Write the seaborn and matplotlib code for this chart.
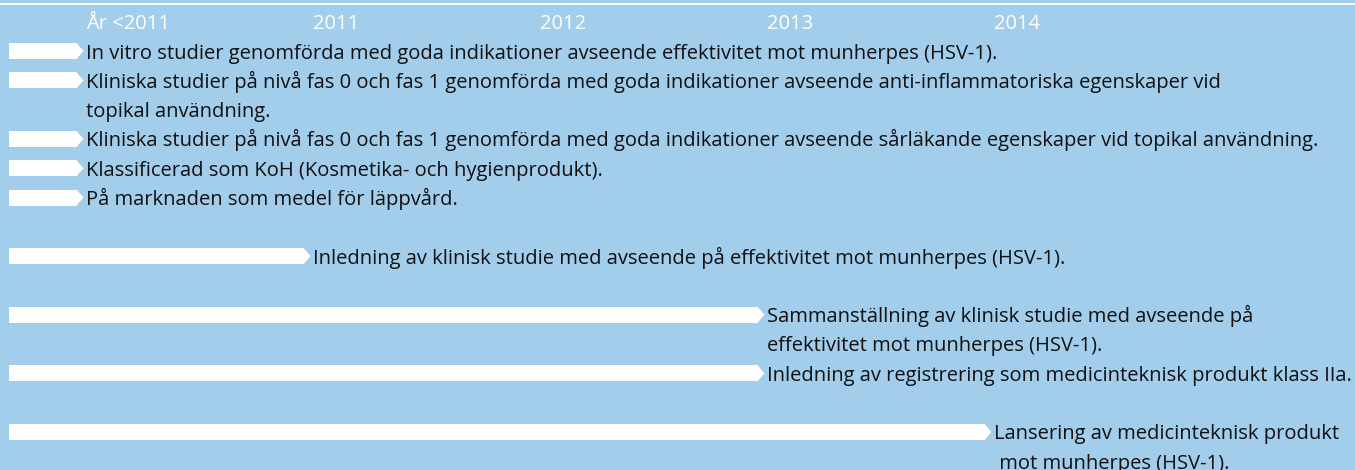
import pandas as pd
import matplotlib.pyplot as plt
import seaborn as sns

# tidslinje: etiketter för åren och milstolpar (text, årsindex)
years = ["År <2011", "2011", "2012", "2013", "2014"]
milestones = [
    "In vitro studier genomförda med goda indikationer avseende effektivitet mot munherpes (HSV-1).",
    "Kliniska studier på nivå fas 0 och fas 1 genomförda med goda indikationer avseende anti-inflammatoriska egenskaper vid\ntopikal användning.",
    "Kliniska studier på nivå fas 0 och fas 1 genomförda med goda indikationer avseende sårläkande egenskaper vid topikal användning.",
    "Klassificerad som KoH (Kosmetika- och hygienprodukt).",
    "På marknaden som medel för läppvård.",
    "Inledning av klinisk studie med avseende på effektivitet mot munherpes (HSV-1).",
    "Sammanställning av klinisk studie med avseende på\neffektivitet mot munherpes (HSV-1).",
    "Inledning av registrering som medicinteknisk produkt klass IIa.",
    "Lansering av medicinteknisk produkt\n mot munherpes (HSV-1).",
]
milestone_year = [0, 0, 0, 0, 0, 1, 3, 3, 4]

BG = "#a2cdeb"
TXT = "#111111"
FONT = "Open Sans"
FS = 14.5

# layout i pixlar
X0 = 9            # vänsterkant för pilarna
TIP0 = 83.5       # pilspets för första året
STEP = 227        # avstånd mellan år
HEAD = 7          # pilspetsens längd
LINE0 = 51        # första radens mitt
PITCH = 29.3      # radavstånd
BAR_H = 16

sns.set_theme(style="white")
plt.rcParams["font.family"] = [FONT, "DejaVu Sans"]

# radpositioner: tom rad när året byts
rows = []
line = 0
prev = milestone_year[0]
for txt, yi in zip(milestones, milestone_year):
    if yi != prev:
        line += 1
    prev = yi
    rows.append(line)
    line += len(txt.split("\n"))

df = pd.DataFrame({
    "text": milestones,
    "year": milestone_year,
    "ypos": [LINE0 + PITCH * r for r in rows],
})
df["tip"] = TIP0 + STEP * df["year"] - X0
df["end"] = df["tip"] - HEAD

fig = plt.figure(figsize=(13.55, 4.70), dpi=100)
fig.patch.set_facecolor(BG)
ax = fig.add_axes([0, 0, 1, 1])
ax.set_facecolor(BG)

min_gap = df["ypos"].diff().abs().min()
sns.barplot(data=df, x="end", y="ypos", orient="y", native_scale=True,
            width=BAR_H / min_gap, color="white", saturation=1,
            errorbar=None, linewidth=0, ax=ax)

for _, r in df.iterrows():
    y = r["ypos"]
    ax.fill([r["end"], r["tip"], r["end"]], [y - BAR_H / 2, y, y + BAR_H / 2],
            color="white", lw=0)
    for k, part in enumerate(r["text"].split("\n")):
        ax.text(r["tip"] + 2.5, y + k * PITCH + 7.5, part, fontsize=FS,
                color=TXT, ha="left", va="baseline")

for i, lab in enumerate(years):
    ax.text(TIP0 + STEP * i - X0 + 2.5, 29, lab, fontsize=FS, color="white",
            ha="left", va="baseline")

ax.axhline(4, color="white", lw=1.3)

ax.set_xlim(-X0, 1355 - X0)
ax.set_ylim(470, 0)
ax.axis("off")

plt.savefig("out.png", dpi=100, facecolor=BG)
plt.close()
